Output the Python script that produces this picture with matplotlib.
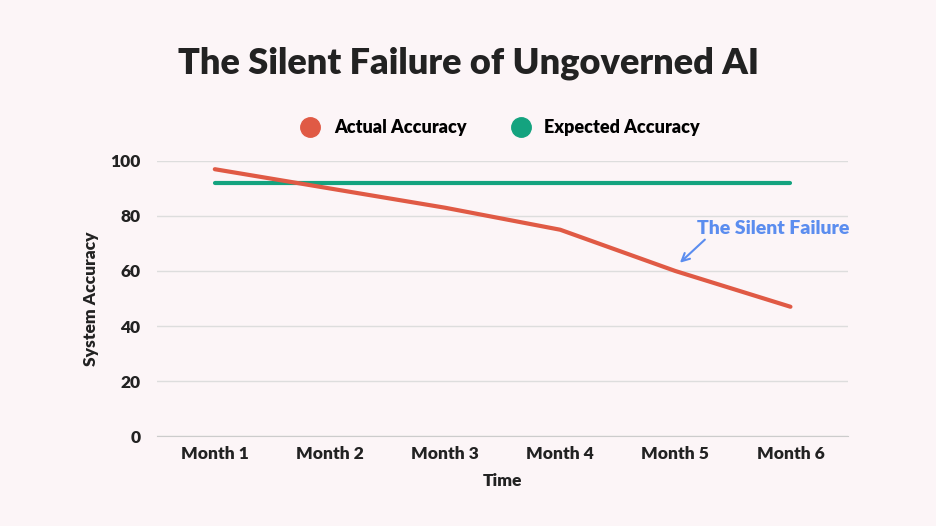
import matplotlib
matplotlib.use("Agg")
import matplotlib.pyplot as plt

months = ['Month 1', 'Month 2', 'Month 3', 'Month 4', 'Month 5', 'Month 6']
actual = [97, 90, 83, 75, 60, 47]
expected = [92, 92, 92, 92, 92, 92]
yticks = [0, 20, 40, 60, 80, 100]

bg = '#fcf5f7'
red = '#e05a45'
green = '#14a37f'
blue = '#5b8def'
dark = '#222222'

plt.rcParams['font.family'] = ['Lato', 'DejaVu Sans']

fig = plt.figure(figsize=(9.36, 5.26), dpi=100, facecolor=bg)
ax = fig.add_axes([0.168, 0.171, 0.738, 0.523], facecolor=bg)

x = list(range(len(months)))
ax.plot(x, actual, color=red, lw=3, solid_capstyle='round', label='Actual Accuracy', zorder=3)
ax.plot(x, expected, color=green, lw=3, solid_capstyle='round', label='Expected Accuracy', zorder=2)

ax.set_xlim(-0.5, len(months) - 0.5)
ax.set_ylim(0, 100)
ax.set_xticks(x)
ax.set_xticklabels(months, fontsize=12.5, fontweight='heavy', color=dark)
ax.set_yticks(yticks)
ax.set_yticklabels([str(v) for v in yticks], fontsize=12.5, fontweight='heavy', color=dark)
ax.tick_params(axis='x', length=0, pad=7)
ax.tick_params(axis='y', length=0, pad=12)
ax.grid(axis='y', color='#dddddd', lw=1)
ax.set_axisbelow(True)
for s in ['top', 'right', 'left']:
    ax.spines[s].set_visible(False)
ax.spines['bottom'].set_color('#cccccc')

ax.set_xlabel('Time', fontsize=12.5, fontweight='heavy', color=dark, labelpad=8)
ax.set_ylabel('System Accuracy', fontsize=12.5, fontweight='heavy', color=dark, labelpad=8)

ax.annotate('The Silent Failure', xy=(4.04, 63), xytext=(4.19, 75.5),
            fontsize=14, fontweight='heavy', color=blue, ha='left', va='center',
            arrowprops=dict(arrowstyle='->', color=blue, lw=1.5, shrinkA=0, shrinkB=0,
                            relpos=(0.07, 0.0)))

fig.text(0.5, 0.88, 'The Silent Failure of Ungoverned AI', ha='center', va='center',
         fontsize=26, fontweight='heavy', color=dark)

h1 = plt.Line2D([], [], marker='o', color=red, ls='', markersize=14)
h2 = plt.Line2D([], [], marker='o', color=green, ls='', markersize=14)
fig.legend([h1, h2], ['Actual Accuracy', 'Expected Accuracy'], loc='center',
           bbox_to_anchor=(0.53, 0.757), ncol=2, frameon=False, handletextpad=0.3,
           columnspacing=2.0, prop={'weight': 'heavy', 'size': 13})

fig.savefig('out.png', dpi=100, facecolor=bg)
